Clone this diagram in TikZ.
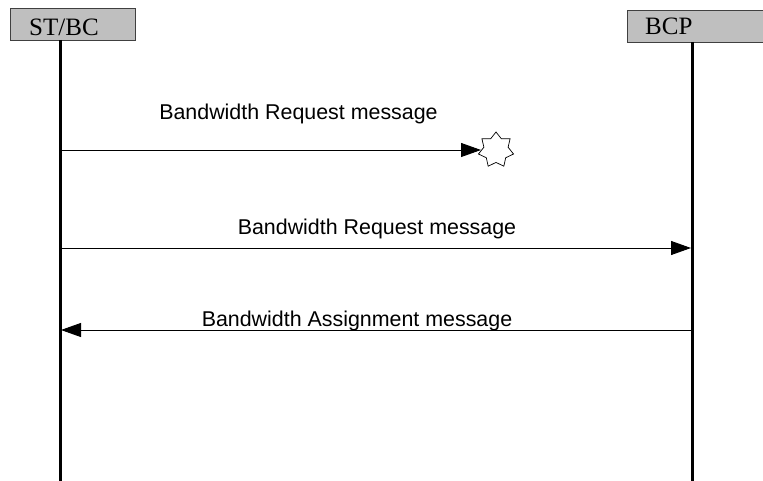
\documentclass[tikz,border=0pt]{standalone}
\usepackage{fontspec}
\setmainfont{Liberation Serif}
\newfontfamily\arialf{Liberation Sans}
\usetikzlibrary{arrows.meta,shapes.geometric}
\begin{document}
\begin{tikzpicture}[x=1pt,y=-1pt,
  entity/.style={draw=black!75,line width=0.9pt,fill=black!25,inner sep=0pt,anchor=north west},
  life/.style={line width=3pt,black},
  msg/.style={line width=0.9pt,black,-{Triangle[length=20pt,width=14pt]}},
  lbl/.style={font=\arialf\fontsize{21.4}{25}\selectfont,anchor=base,inner sep=0pt},
  ent/.style={font=\fontsize{25}{29}\selectfont,anchor=base west,inner sep=0pt}]
\useasboundingbox (0,0) rectangle (763,481);
% entity boxes
\node[entity,minimum width=125pt,minimum height=32pt] (boxA) at (10,8) {};
\node[ent] (tA) at (29,36) {ST/BC};
\node[entity,minimum width=140pt,minimum height=32pt] (boxB) at (627,10) {};
\node[ent] (tB) at (645,35) {BCP};
% lifelines
\coordinate (A0) at (60,40);
\coordinate (A1) at (60,482);
\coordinate (B0) at (692,42);
\coordinate (B1) at (692,482);
\draw[life] (A0) -- (A1);
\draw[life] (B0) -- (B1);
% lost message
\node[star,star points=7,star point ratio=1.45,minimum size=36pt,draw,line width=0.7pt,fill=white,inner sep=0pt] (lost) at (496,150) {};
\coordinate (m1s) at (60,150);
\coordinate (m1e) at (481,150);
\draw[msg] (m1s) -- (m1e);
\node[lbl] (l1) at (298.5,120) {Bandwidth Request message};
% message 2
\coordinate (m2s) at (60,248);
\coordinate (m2e) at (691,248);
\draw[msg] (m2s) -- (m2e);
\node[lbl] (l2) at (377,235) {Bandwidth Request message};
% message 3
\coordinate (m3s) at (692,330);
\coordinate (m3e) at (61,330);
\draw[msg] (m3s) -- (m3e);
\node[lbl] (l3) at (357,326) {Bandwidth Assignment message};
\end{tikzpicture}
\end{document}
